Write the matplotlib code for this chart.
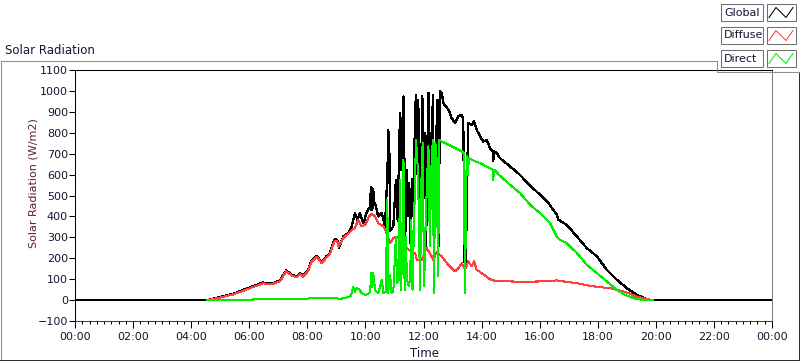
import matplotlib
matplotlib.use('Agg')
import matplotlib.pyplot as plt
from matplotlib.ticker import MultipleLocator, FuncFormatter
from matplotlib.lines import Line2D
from matplotlib.patches import Rectangle

plt.rcParams['font.family'] = ['DejaVu Sans']

# ── data (hours of day, W/m2) ────────────────────────────────────────────────
global_t = [0.0, 4.55, 4.99, 5.45, 5.8, 6.2, 6.48, 6.77, 7.06, 7.27, 7.46, 7.63, 7.75,
            7.86, 8.03, 8.13, 8.32, 8.5, 8.66, 8.78, 8.88, 8.95, 9.03, 9.09, 9.24, 9.41,
            9.53, 9.64, 9.72, 9.81, 9.93, 10.04, 10.16, 10.19, 10.21, 10.23, 10.25, 10.27,
            10.3, 10.33, 10.44, 10.56, 10.675, 10.755, 10.79, 10.81, 10.83, 10.85, 10.96,
            11.05, 11.11, 11.19, 11.23, 11.26, 11.31, 11.34, 11.37, 11.42, 11.47, 11.51,
            11.55, 11.6, 11.65, 11.71, 11.74, 11.79, 11.82, 11.88, 11.93, 11.96, 12.02,
            12.05, 12.09, 12.13, 12.17, 12.2, 12.25, 12.28, 12.32, 12.36, 12.4, 12.43,
            12.48, 12.52, 12.57, 12.63, 12.68, 12.86, 12.97, 13.09, 13.2, 13.32, 13.37,
            13.41, 13.46, 13.5, 13.54, 13.66, 13.74, 13.83, 13.95, 14.06, 14.18, 14.29,
            14.38, 14.4, 14.43, 14.52, 14.63, 14.98, 15.32, 15.67, 16.01, 16.3, 16.59,
            16.65, 16.93, 17.28, 17.62, 17.97, 18.31, 18.66, 19.0, 19.34, 19.69, 19.86, 24.0]
global_v = [0, 0, 14, 30, 49, 70, 84, 78, 94, 142, 121, 113, 129,
            116, 145, 185, 212, 180, 209, 225, 270, 292, 288, 250, 304, 320,
            352, 416, 384, 416, 368, 416, 448, 540, 430, 536, 440, 530,
            460, 464, 400, 416, 352, 600, 814, 560, 700, 330, 352,
            575, 380, 894, 620, 800, 974, 700, 290, 620, 400, 560,
            270, 580, 400, 900, 982, 600, 958, 288, 700, 974, 575,
            800, 256, 700, 990, 700, 799, 600, 982, 256, 650, 735,
            958, 256, 998, 990, 942, 910, 870, 846, 878, 886, 862,
            185, 161, 575, 846, 838, 854, 814, 782, 758, 766, 727,
            711, 663, 711, 703, 679, 639, 599, 547, 504, 464, 408,
            384, 360, 304, 249, 209, 145, 97, 57, 25, 5, 0, 0]

diffuse_t = [4.56, 4.99, 5.45, 5.8, 6.2, 6.48, 6.77, 7.06, 7.27, 7.46, 7.63, 7.75, 7.86,
             8.03, 8.13, 8.32, 8.5, 8.66, 8.78, 8.88, 8.95, 9.03, 9.07, 9.24, 9.41, 9.53,
             9.64, 9.75, 9.87, 9.99, 10.13, 10.21, 10.33, 10.44, 10.62, 10.73, 10.85,
             10.96, 11.08, 11.19, 11.31, 11.42, 11.54, 11.64, 11.71, 11.77, 11.94, 12.11,
             12.22, 12.34, 12.45, 12.63, 12.8, 12.97, 13.09, 13.2, 13.32, 13.43, 13.54,
             13.66, 13.74, 13.83, 14.0, 14.08, 14.29, 14.46, 14.63, 15.0, 15.43, 16.0,
             16.59, 16.93, 17.28, 17.73, 18.08, 18.42, 18.66, 19.0, 19.34, 19.69, 19.86]
diffuse_v = [0, 12, 27, 45, 66, 80, 75, 90, 138, 117, 110, 125, 112,
             140, 180, 207, 176, 204, 220, 262, 284, 282, 256, 296, 318, 335,
             344, 384, 352, 360, 400, 413, 400, 368, 352, 320, 272,
             296, 304, 288, 304, 249, 235, 225, 225, 193, 193, 249,
             225, 193, 228, 209, 177, 153, 137, 153, 177, 145, 185,
             161, 185, 145, 129, 121, 100, 92, 89, 89, 88, 89,
             94, 87, 81, 68, 62, 57, 49, 36, 17, 5, 0]

direct_t = [4.56, 6.0, 6.14, 7.0, 8.0, 8.1, 8.9, 9.11, 9.35, 9.5, 9.58, 9.64, 9.7, 9.81,
            9.87, 9.99, 10.1, 10.16, 10.21, 10.24, 10.27, 10.33, 10.44, 10.56, 10.62,
            10.7, 10.755, 10.78, 10.85, 10.9, 10.96, 11.05, 11.09, 11.15, 11.19, 11.23,
            11.27, 11.31, 11.35, 11.39, 11.43, 11.49, 11.54, 11.58, 11.62, 11.68, 11.74,
            11.8, 11.84, 11.88, 11.93, 11.97, 12.02, 12.08, 12.13, 12.17, 12.22, 12.26,
            12.32, 12.36, 12.41, 12.46, 12.5, 12.55, 12.63, 12.86, 12.97, 13.09, 13.2,
            13.32, 13.38, 13.43, 13.47, 13.5, 13.53, 13.56, 13.66, 13.77, 13.95, 14.06,
            14.29, 14.38, 14.4, 14.43, 14.63, 14.98, 15.32, 15.67, 16.01, 16.36, 16.59,
            16.7, 16.93, 17.28, 17.62, 17.97, 18.31, 18.66, 19.0, 19.34, 19.69, 19.9]
direct_v = [0, 1, 3, 4, 6, 9, 12, 5, 12, 20, 65, 40, 57, 50,
            33, 25, 30, 41, 132, 60, 129, 49, 33, 97, 33,
            40, 480, 33, 121, 33, 40, 304, 81, 100, 575, 49,
            300, 671, 49, 304, 100, 65, 97, 384, 49, 400, 766,
            639, 416, 49, 575, 751, 65, 400, 600, 735, 256, 600,
            766, 33, 751, 655, 113, 766, 758, 743, 735, 727, 719,
            711, 703, 33, 575, 690, 600, 679, 671, 663, 655, 647,
            631, 623, 575, 623, 595, 551, 512, 456, 416, 368, 304,
            288, 272, 225, 169, 129, 89, 49, 21, 5, 0, 0]

W, H = 800, 361


def fx(px):
    return px / W


def fy(py):
    return 1 - py / H


TXT = '#141432'

fig = plt.figure(figsize=(W / 100, H / 100), dpi=100, facecolor='white')
ax = fig.add_axes([fx(75), fy(321), 697 / W, 251 / H])

ax.plot(global_t, global_v, color='black', lw=0.9, antialiased=False, zorder=3)
ax.plot(diffuse_t, diffuse_v, color='#ff4040', lw=0.75, antialiased=False, zorder=4)
ax.plot(direct_t, direct_v, color='#00ee00', lw=0.75, antialiased=False, zorder=5)

ax.set_xlim(0, 24)
ax.set_ylim(-100, 1100)
ax.xaxis.set_major_locator(MultipleLocator(2))
ax.xaxis.set_minor_locator(MultipleLocator(0.25))
ax.xaxis.set_major_formatter(FuncFormatter(lambda h, _: f"{int(round(h)) % 24:02d}:00"))
ax.yaxis.set_major_locator(MultipleLocator(100))

ax.tick_params(axis='both', which='both', direction='out', colors='black',
               labelcolor=TXT, labelsize=8, width=0.75)
ax.tick_params(axis='y', which='major', length=4, pad=1)
ax.tick_params(axis='x', which='major', length=5, pad=3)
ax.tick_params(axis='x', which='minor', length=2.5)

for side in ('left', 'top'):
    ax.spines[side].set_color('black')
ax.spines['right'].set_color('#808080')
ax.spines['bottom'].set_color('#404040')
for s in ax.spines.values():
    s.set_linewidth(0.75)

ax.set_ylabel('Solar Radiation (W/m2)', color='#602020', fontsize=8)
ax.yaxis.set_label_coords(-0.052, 0.55)
ax.set_xlabel('Time', color=TXT, fontsize=8.5)
ax.xaxis.set_label_coords(0.502, -0.105)

fig.text(fx(5), fy(51), 'Solar Radiation', color=TXT, fontsize=8.5,
         ha='left', va='center')

# ── outer frame ──────────────────────────────────────────────────────────────
fr = dict(transform=fig.transFigure, lw=0.75)
fig.add_artist(Line2D([fx(0.5), fx(717)], [fy(61), fy(61)], color='#909090', **fr))
fig.add_artist(Line2D([fx(0.5), fx(0.5)], [fy(61), fy(360)], color='#909090', **fr))
fig.add_artist(Line2D([fx(0), fx(800)], [fy(360), fy(360)], color='#303030', **fr))
fig.add_artist(Line2D([fx(799), fx(799)], [fy(72), fy(360)], color='#303030', **fr))
fig.add_artist(Line2D([fx(717), fx(717)], [fy(61), fy(72)], color='#909090', **fr))
fig.add_artist(Line2D([fx(717), fx(799)], [fy(72), fy(72)], color='#909090', **fr))

# ── plot legend (label box + swatch) ─────────────────────────────────────────
legend_rows = [('Global', 'black', 4), ('Diffuse', '#ff4040', 27), ('Direct', '#00ee00', 50)]
for name, col, top in legend_rows:
    fig.add_artist(Rectangle((fx(721), fy(top + 17)), 42 / W, 17 / H, transform=fig.transFigure,
                             facecolor='white', edgecolor='#707070', lw=0.75))
    fig.add_artist(Rectangle((fx(767), fy(top + 17)), 29 / W, 17 / H, transform=fig.transFigure,
                             facecolor='white', edgecolor='#707070', lw=0.75))
    fig.text(fx(724), fy(top + 8.5), name, color=TXT, fontsize=8, ha='left', va='center')
    fig.add_artist(Line2D([fx(769), fx(776), fx(786), fx(793)],
                          [fy(top + 13.5), fy(top + 3.5), fy(top + 13.5), fy(top + 3.5)],
                          color=col, lw=0.75, transform=fig.transFigure))

fig.savefig('out.png', dpi=100, facecolor='white')
